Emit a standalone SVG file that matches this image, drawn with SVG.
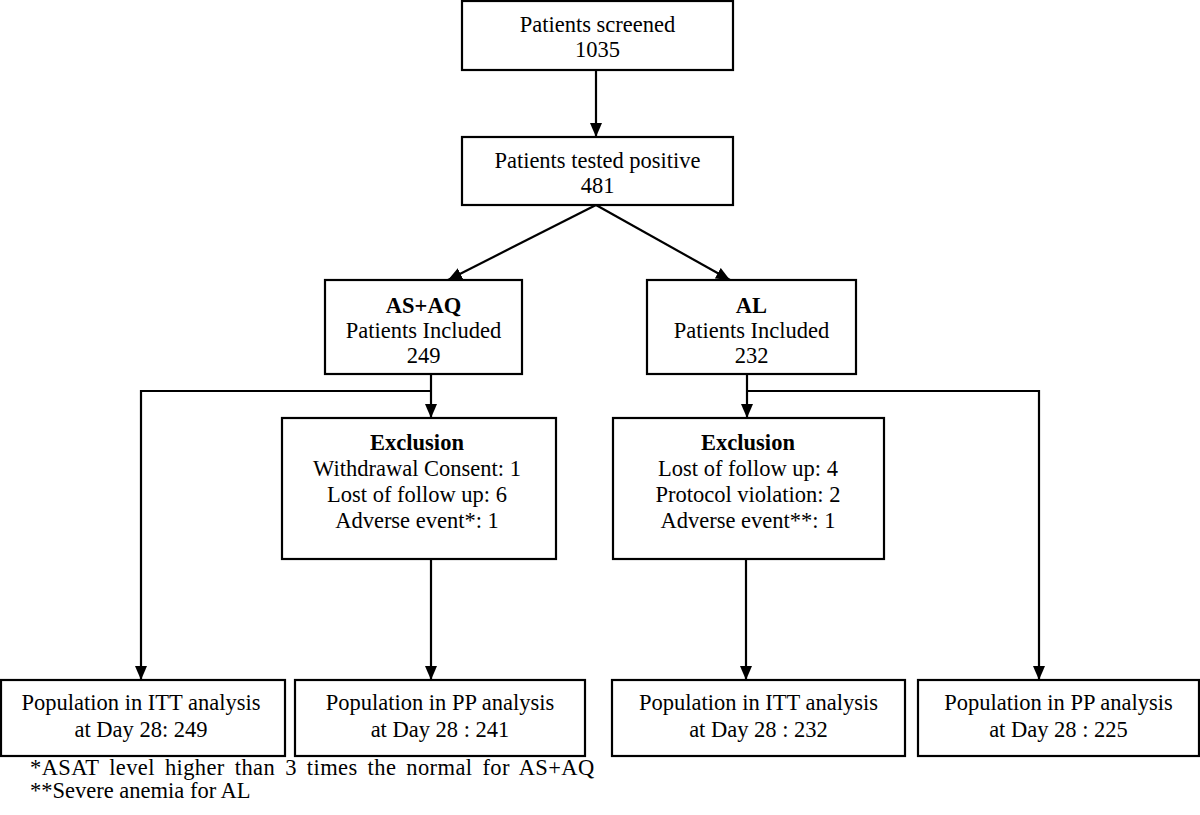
<svg xmlns="http://www.w3.org/2000/svg" width="1200" height="815" viewBox="0 0 1200 815">
<defs>
<style>
.box{fill:#fff;stroke:#000;stroke-width:2.2}
.t{font-family:"Liberation Serif","Times New Roman",serif;font-size:22.5px;fill:#000;text-anchor:middle}
.b{font-weight:bold}
.fn{font-family:"Liberation Serif","Times New Roman",serif;font-size:22.5px;fill:#000}
.c{fill:none;stroke:#000;stroke-width:2.2}
</style>
<marker id="ah" viewBox="0 0 14 12" refX="14" refY="6" markerWidth="14" markerHeight="12" markerUnits="userSpaceOnUse" orient="auto">
<path d="M0,0 L14,6 L0,12 Z" fill="#000"/>
</marker>
</defs>
<rect width="1200" height="815" fill="#fff"/>

<g id="connectors">
<line class="c" x1="596" y1="70" x2="596" y2="137" marker-end="url(#ah)"/>
<line class="c" x1="596" y1="205" x2="448" y2="280" marker-end="url(#ah)"/>
<line class="c" x1="596" y1="205" x2="730" y2="280" marker-end="url(#ah)"/>
<line class="c" x1="431" y1="374" x2="431" y2="418" marker-end="url(#ah)"/>
<polyline class="c" points="431,391 141,391 141,680" marker-end="url(#ah)"/>
<line class="c" x1="431" y1="559" x2="431" y2="680" marker-end="url(#ah)"/>
<line class="c" x1="747" y1="374" x2="747" y2="418" marker-end="url(#ah)"/>
<polyline class="c" points="747,391 1039,391 1039,680" marker-end="url(#ah)"/>
<line class="c" x1="746" y1="559" x2="746" y2="680" marker-end="url(#ah)"/>
</g>

<g id="screened">
<rect class="box" x="462" y="1" width="271" height="69"/>
<text class="t" x="597.5" y="32">Patients screened</text>
<text class="t" x="597.5" y="57">1035</text>
</g>

<g id="positive">
<rect class="box" x="462" y="137" width="271" height="68"/>
<text class="t" x="597.5" y="168">Patients tested positive</text>
<text class="t" x="597.5" y="193">481</text>
</g>

<g id="asaq">
<rect class="box" x="325" y="280" width="197" height="94"/>
<text class="t b" x="423.5" y="313">AS+AQ</text>
<text class="t" x="423.5" y="338">Patients Included</text>
<text class="t" x="423.5" y="363">249</text>
</g>

<g id="al">
<rect class="box" x="647" y="280" width="209" height="94"/>
<text class="t b" x="751.5" y="313">AL</text>
<text class="t" x="751.5" y="338">Patients Included</text>
<text class="t" x="751.5" y="363">232</text>
</g>

<g id="excl-asaq">
<rect class="box" x="282" y="418" width="274" height="141"/>
<text class="t b" x="417" y="450">Exclusion</text>
<text class="t" x="417" y="476">Withdrawal Consent: 1</text>
<text class="t" x="417" y="502">Lost of follow up: 6</text>
<text class="t" x="417" y="528">Adverse event*: 1</text>
</g>

<g id="excl-al">
<rect class="box" x="613" y="418" width="271" height="141"/>
<text class="t b" x="748" y="450">Exclusion</text>
<text class="t" x="748" y="476">Lost of follow up: 4</text>
<text class="t" x="748" y="502">Protocol violation: 2</text>
<text class="t" x="748" y="528">Adverse event**: 1</text>
</g>

<g id="itt-asaq">
<rect class="box" x="1" y="680" width="284" height="76"/>
<text class="t" x="141" y="710">Population in ITT analysis</text>
<text class="t" x="141" y="737">at Day 28: 249</text>
</g>

<g id="pp-asaq">
<rect class="box" x="295" y="680" width="290" height="76"/>
<text class="t" x="440" y="710">Population in PP analysis</text>
<text class="t" x="440" y="737">at Day 28 : 241</text>
</g>

<g id="itt-al">
<rect class="box" x="612" y="680" width="293" height="76"/>
<text class="t" x="758.5" y="710">Population in ITT analysis</text>
<text class="t" x="758.5" y="737">at Day 28 : 232</text>
</g>

<g id="pp-al">
<rect class="box" x="918" y="680" width="281" height="76"/>
<text class="t" x="1058.5" y="710">Population in PP analysis</text>
<text class="t" x="1058.5" y="737">at Day 28 : 225</text>
</g>

<g id="footnotes">
<text class="fn" x="30" y="775" word-spacing="4" letter-spacing="0.4">*ASAT level higher than 3 times the normal for AS+AQ</text>
<text class="fn" x="30" y="798">**Severe anemia for AL</text>
</g>
</svg>
